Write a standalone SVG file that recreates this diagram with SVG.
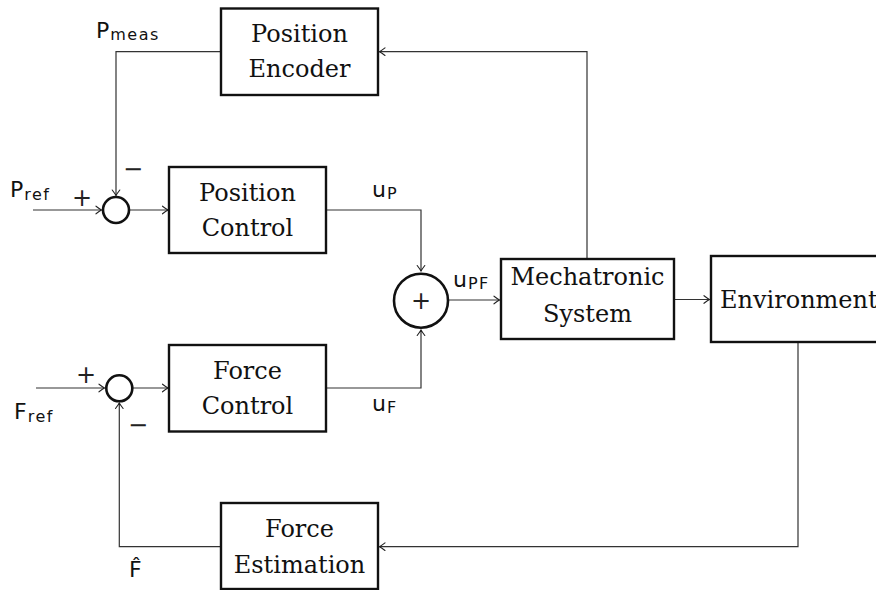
<svg xmlns="http://www.w3.org/2000/svg" width="876" height="590" viewBox="0 0 876 590">
<defs>
<marker id="arr" markerUnits="userSpaceOnUse" markerWidth="12" markerHeight="12" viewBox="-7 -6 8 12" refX="0" refY="0" orient="auto">
<path d="M -5.5 -3.8 Q -1.5 -0.8 0 0 Q -1.5 0.8 -5.5 3.8" fill="none" stroke="#222" stroke-width="1.1" stroke-linecap="round"/>
</marker>
<style>
.box{fill:#fff;stroke:#111;stroke-width:2.4}
.sum{fill:#fff;stroke:#111;stroke-width:2.6}
.lbl{font-family:"DejaVu Serif","Liberation Serif",serif;font-size:24px;fill:#111;text-anchor:middle}
.math{font-family:"DejaVu Sans","Noto Sans",sans-serif;font-size:22px;fill:#111}
.sub{font-size:16px;letter-spacing:1.5px}
.sign{font-family:"DejaVu Sans",sans-serif;font-size:24px;fill:#222;text-anchor:middle}
.wire{fill:none;stroke:#333;stroke-width:1.2}
</style>
</defs>
<rect width="876" height="590" fill="#fff"/>
<g id="connectors">
<path class="wire" d="M221 51.7 H116 V195.5" marker-end="url(#arr)"/>
<path class="wire" d="M33 210 H101.5" marker-end="url(#arr)"/>
<path class="wire" d="M130 210 H168" marker-end="url(#arr)"/>
<path class="wire" d="M326 210 H421 V271" marker-end="url(#arr)"/>
<path class="wire" d="M36 388 H104.5" marker-end="url(#arr)"/>
<path class="wire" d="M133 388 H168" marker-end="url(#arr)"/>
<path class="wire" d="M326 388 H421 V330" marker-end="url(#arr)"/>
<path class="wire" d="M449 300 H499.5" marker-end="url(#arr)"/>
<path class="wire" d="M587 259 V51.7 H379.5" marker-end="url(#arr)"/>
<path class="wire" d="M675 299.5 H709.5" marker-end="url(#arr)"/>
<path class="wire" d="M798 343 V546.7 H379.5" marker-end="url(#arr)"/>
<path class="wire" d="M221 546.7 H119.3 V403" marker-end="url(#arr)"/>
</g>
<g id="position-encoder">
<rect class="box" x="221" y="8.5" width="157" height="86.5"/>
<text class="lbl" x="299.5" y="42">Position</text>
<text class="lbl" x="299.5" y="77">Encoder</text>
</g>
<g id="position-sum">
<circle class="sum" cx="116" cy="210" r="13"/>
</g>
<g id="position-control">
<rect class="box" x="169" y="167" width="157" height="86"/>
<text class="lbl" x="247.5" y="201">Position</text>
<text class="lbl" x="247.5" y="236">Control</text>
</g>
<g id="force-sum">
<circle class="sum" cx="119.3" cy="388.3" r="13"/>
</g>
<g id="force-control">
<rect class="box" x="169" y="345" width="157" height="86.5"/>
<text class="lbl" x="247.5" y="379">Force</text>
<text class="lbl" x="247.5" y="414">Control</text>
</g>
<g id="main-sum">
<circle class="sum" cx="421" cy="300.7" r="27"/>
<text class="sign" x="421" y="309">+</text>
</g>
<g id="mechatronic-system">
<rect class="box" x="501" y="259" width="173" height="80"/>
<text class="lbl" x="587.5" y="285">Mechatronic</text>
<text class="lbl" x="587.5" y="321.5">System</text>
</g>
<g id="environment">
<rect class="box" x="711" y="256" width="190" height="86"/>
<text class="lbl" x="720" y="308" style="text-anchor:start">Environment</text>
</g>
<g id="force-estimation">
<rect class="box" x="221" y="503" width="157" height="86"/>
<text class="lbl" x="299.5" y="537">Force</text>
<text class="lbl" x="299.5" y="572.5">Estimation</text>
</g>
<g id="labels">
<text class="math" x="96" y="38">P<tspan class="sub" dx="1" dy="2">meas</tspan></text>
<text class="math" x="10" y="197">P<tspan class="sub" dx="1" dy="3">ref</tspan></text>
<text class="sign" x="82" y="206">+</text>
<text class="sign" x="133" y="177">−</text>
<text class="math" x="372" y="197">u<tspan class="sub" dx="1" dy="2">P</tspan></text>
<text class="math" x="453" y="287">u<tspan class="sub" dx="1" dy="2">PF</tspan></text>
<text class="math" x="14" y="419">F<tspan class="sub" dx="1" dy="3">ref</tspan></text>
<text class="sign" x="86" y="383">+</text>
<text class="sign" x="138" y="433">−</text>
<text class="math" x="372" y="411">u<tspan class="sub" dx="1" dy="2">F</tspan></text>
<text class="math" x="129" y="577">F̂</text>
</g>
</svg>
